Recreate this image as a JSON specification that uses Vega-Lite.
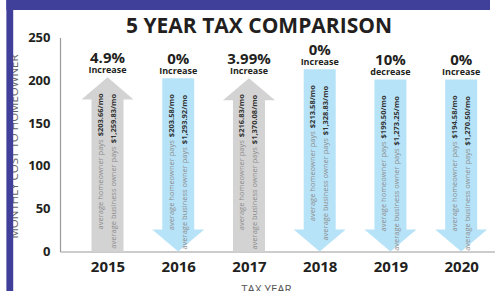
{
  "$schema": "https://vega.github.io/schema/vega-lite/v6.json",
  "width": 435,
  "height": 214,
  "autosize": {"type": "none"},
  "padding": {"left": 60, "top": 37.5, "right": 0, "bottom": 39.5},
  "background": "white",
  "config": {"view": {"stroke": null}, "font": "Open Sans"},
  "title": {"text": "5 YEAR TAX COMPARISON", "fontSize": 21, "fontWeight": "bold", "color": "#231f20", "font": "Open Sans", "anchor": "middle", "frame": "group", "baseline": "alphabetic", "offset": 0, "dy": 54, "dx": -18.5},
  "data": {"values": [
    {"year": 2015, "dir": "up", "h": 203.5, "pct": "4.9%", "change": "Increase", "home": "$203.66/mo", "biz": "$1,259.83/mo"},
    {"year": 2016, "dir": "down", "h": 202.5, "pct": "0%", "change": "Increase", "home": "$203.58/mo", "biz": "$1,293.92/mo"},
    {"year": 2017, "dir": "up", "h": 202.5, "pct": "3.99%", "change": "Increase", "home": "$216.83/mo", "biz": "$1,370.08/mo"},
    {"year": 2018, "dir": "down", "h": 213, "pct": "0%", "change": "Increase", "home": "$213.58/mo", "biz": "$1,328.83/mo"},
    {"year": 2019, "dir": "down", "h": 201, "pct": "10%", "change": "decrease", "home": "$199.50/mo", "biz": "$1,273.25/mo"},
    {"year": 2020, "dir": "down", "h": 201, "pct": "0%", "change": "Increase", "home": "$194.58/mo", "biz": "$1,270.50/mo"}
  ]},
  "layer": [
    {
      "transform": [{"filter": "datum.year === 2015"}],
      "mark": {"type": "rect", "color": "#40409a"},
      "encoding": {
        "x": {"datum": 2013.5702, "type": "quantitative"},
        "x2": {"datum": 2013.6669},
        "y": {"datum": -46.2, "type": "quantitative"},
        "y2": {"datum": 293.81}
      }
    },
    {
      "transform": [{"filter": "datum.year === 2015"}],
      "mark": {"type": "rect", "color": "#40409a"},
      "encoding": {
        "x": {"datum": 2013.5702, "type": "quantitative"},
        "x2": {"datum": 2020.4075},
        "y": {"datum": 282.13, "type": "quantitative"},
        "y2": {"datum": 293.81}
      }
    },
    {
      "transform": [{"filter": "datum.dir === 'up'"}],
      "mark": {"type": "bar", "size": 32, "color": "#d3d3d3", "yOffset": 20},
      "encoding": {
        "x": {"field": "year", "type": "quantitative", "scale": {"domain": [2014.399, 2020.4075], "nice": false, "zero": false},
          "axis": {"values": [2015, 2016, 2017, 2018, 2019, 2020], "format": "d", "domainColor": "#9a9a9a", "domainWidth": 1.2, "ticks": false, "grid": false,
            "labelFontSize": 15, "labelFontWeight": "bold", "labelColor": "#231f20", "labelPadding": 8,
            "title": "TAX YEAR", "titleFontSize": 11.5, "titleFontWeight": "normal", "titleColor": "#555555", "titleX": 206, "titleY": 41, "titleAlign": "center", "titleBaseline": "alphabetic"}},
        "y": {"field": "h", "type": "quantitative", "scale": {"domain": [0, 250], "nice": false, "zero": false},
          "axis": {"values": [0, 50, 100, 150, 200, 250], "domainColor": "#9a9a9a", "domainWidth": 1.2, "ticks": false, "grid": false,
            "labelFontSize": 13, "labelFontWeight": "bold", "labelColor": "#231f20", "labelPadding": 10,
            "title": "MONTHLY COST TO HOMEOWNER", "titleFontSize": 11.5, "titleFontWeight": "normal", "titleColor": "#666666", "titleX": -46, "titleY": 108.5, "titleAngle": 270, "titleAlign": "center", "titleBaseline": "middle"}},
        "y2": {"datum": 0}
      }
    },
    {
      "transform": [{"filter": "datum.dir === 'up'"}],
      "mark": {"type": "point", "shape": "M0,0L1,0.85L-1,0.85Z", "size": 2704, "filled": true, "opacity": 1, "color": "#d3d3d3", "strokeWidth": 0},
      "encoding": {"x": {"field": "year", "type": "quantitative"}, "y": {"field": "h", "type": "quantitative"}}
    },
    {
      "transform": [{"filter": "datum.dir === 'down'"}],
      "mark": {"type": "bar", "size": 32, "color": "#b7e3f8", "y2Offset": -20},
      "encoding": {"x": {"field": "year", "type": "quantitative"}, "y": {"field": "h", "type": "quantitative"}, "y2": {"datum": 0}}
    },
    {
      "transform": [{"filter": "datum.dir === 'down'"}],
      "mark": {"type": "point", "shape": "M0,0L1,-0.85L-1,-0.85Z", "size": 2704, "filled": true, "opacity": 1, "color": "#b7e3f8", "strokeWidth": 0},
      "encoding": {"x": {"field": "year", "type": "quantitative"}, "y": {"datum": 0, "type": "quantitative"}}
    },
    {
      "mark": {"type": "text", "fontSize": 15, "fontWeight": "bold", "color": "#231f20", "baseline": "middle", "yOffset": -19},
      "encoding": {"x": {"field": "year", "type": "quantitative"}, "y": {"field": "h", "type": "quantitative"}, "text": {"field": "pct"}}
    },
    {
      "mark": {"type": "text", "fontSize": 9, "fontWeight": "bold", "color": "#231f20", "baseline": "middle", "yOffset": -7},
      "encoding": {"x": {"field": "year", "type": "quantitative"}, "y": {"field": "h", "type": "quantitative"}, "text": {"field": "change"}}
    },
    {
      "mark": {"type": "text", "fontSize": 7.5, "fontWeight": "bold", "color": "#333333", "angle": 270, "align": "left", "baseline": "middle", "xOffset": -6.5, "yOffset": 59},
      "encoding": {"x": {"field": "year", "type": "quantitative"}, "y": {"field": "h", "type": "quantitative"}, "text": {"field": "home"}}
    },
    {
      "mark": {"type": "text", "fontSize": 7.5, "color": "#8c8c8c", "angle": 270, "align": "right", "baseline": "middle", "xOffset": -6.5, "yOffset": 62, "text": "average homeowner pays"},
      "encoding": {"x": {"field": "year", "type": "quantitative"}, "y": {"field": "h", "type": "quantitative"}}
    },
    {
      "mark": {"type": "text", "fontSize": 7.5, "fontWeight": "bold", "color": "#333333", "angle": 270, "align": "left", "baseline": "middle", "xOffset": 6.5, "yOffset": 66},
      "encoding": {"x": {"field": "year", "type": "quantitative"}, "y": {"field": "h", "type": "quantitative"}, "text": {"field": "biz"}}
    },
    {
      "mark": {"type": "text", "fontSize": 7.5, "color": "#8c8c8c", "angle": 270, "align": "right", "baseline": "middle", "xOffset": 6.5, "yOffset": 69, "text": "average business owner pays"},
      "encoding": {"x": {"field": "year", "type": "quantitative"}, "y": {"field": "h", "type": "quantitative"}}
    }
  ]
}
